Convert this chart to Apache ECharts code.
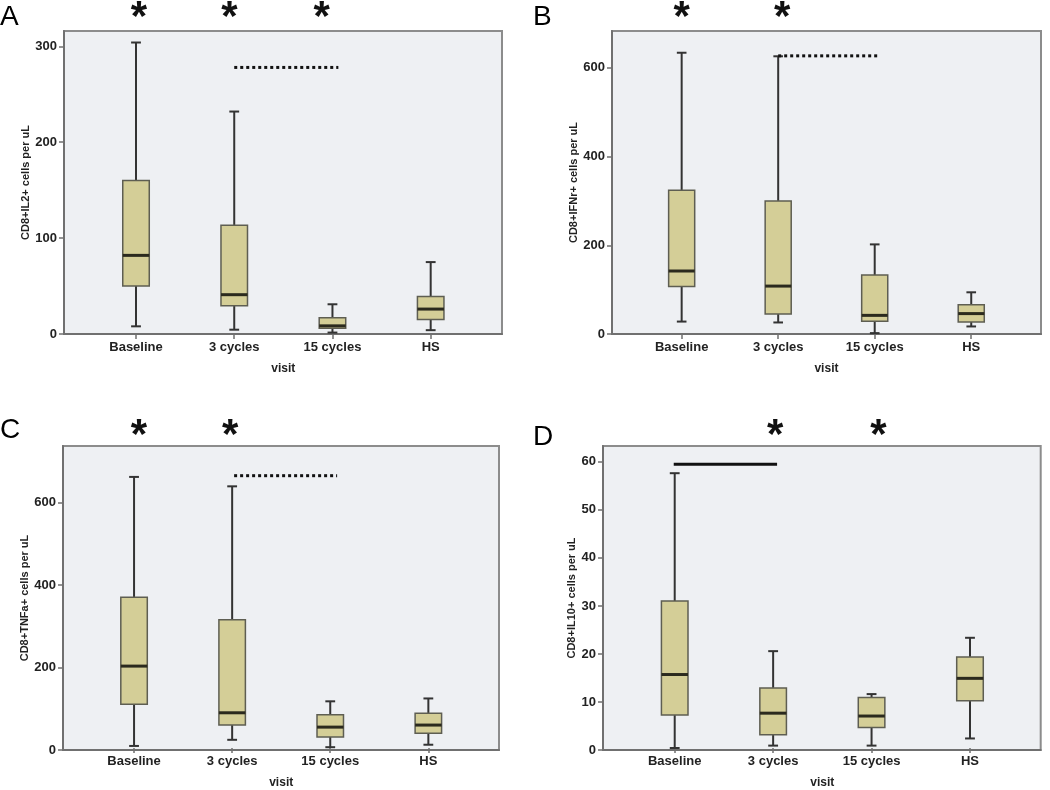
<!DOCTYPE html>
<html><head><meta charset="utf-8">
<script src="https://cdn.jsdelivr.net/npm/echarts@6/dist/echarts.min.js"></script>
<style>html,body{margin:0;padding:0;background:#fff}#chart{width:1050px;height:790px}</style>
</head><body><div id="chart"></div>
<script>
// ---------------- data ----------------
const categories = ['Baseline', '3 cycles', '15 cycles', 'HS'];
// box rows: [lower whisker, Q1, median, Q3, upper whisker]
const il2Box  = [[8, 50, 82, 160, 304], [4.5, 29.5, 41, 113.5, 232], [1.5, 6, 8.5, 17, 31], [4, 15, 26, 39, 75]];
const ifnBox  = [[28, 107, 142, 324, 634], [26, 45, 108, 300, 626], [2, 28.5, 42, 133, 202], [17, 27, 46, 66, 94]];
const tnfBox  = [[5, 107, 200, 368, 662], [20, 56, 86, 313, 639], [2, 27, 51, 81, 114], [8, 36, 56, 85, 121]];
const il10Box = [[0, 6.9, 15.4, 30.8, 57.6], [0.5, 2.8, 7.3, 12.6, 20.3], [0.5, 4.3, 6.7, 10.6, 11.3], [2, 9.9, 14.6, 19.1, 23.1]];

const il2Ticks  = [0, 100, 200, 300];
const ifnTicks  = [0, 200, 400, 600];
const tnfTicks  = [0, 200, 400, 600];
const il10Ticks = [0, 10, 20, 30, 40, 50, 60];

const axisMax = [316, 683, 737.5, 63.3];
const yNames = ['CD8+IL2+ cells per uL', 'CD8+IFNr+ cells per uL', 'CD8+TNFa+ cells per uL', 'CD8+IL10+ cells per uL'];
const panelLetters = ['A', 'B', 'C', 'D'];
const xName = 'visit';

// significance asterisks: [category position, value level]
const starsA = [[0.03, 339], [0.95, 339], [1.89, 339]];
const starsB = [[0.0, 732], [1.04, 732]];
const starsC = [[0.05, 784], [0.98, 784]];
const starsD = [[1.02, 67.3], [2.07, 67.3]];
// comparison bars: [from category, to category, value level, dotted(1)/solid(0)]
const barsA = [[1.0, 2.06, 278, 1]];
const barsB = [[1.0, 2.04, 627, 1]];
const barsC = [[1.02, 2.07, 665, 1]];
const barsD = [[-0.01, 1.04, 59.5, 0]];

// ---------------- layout ----------------
const frames = [
  {left: 64,  top: 31,  width: 438,   height: 303, innerLeft: 86.9,  innerWidth: 392.9, nameGap: 32, lx: 0,   ly: 3},
  {left: 612, top: 31,  width: 429,   height: 303, innerLeft: 633.4, innerWidth: 386.1, nameGap: 32, lx: 533, ly: 3},
  {left: 63,  top: 446, width: 436,   height: 304, innerLeft: 85,    innerWidth: 392.4, nameGap: 31, lx: 0,   ly: 416},
  {left: 603, top: 446, width: 437.7, height: 304, innerLeft: 625.5, innerWidth: 393.7, nameGap: 24, lx: 533, ly: 423}
];
const boxes = [il2Box, ifnBox, tnfBox, il10Box];
const ticks = [il2Ticks, ifnTicks, tnfTicks, il10Ticks];
const stars = [starsA, starsB, starsC, starsD];
const bars = [barsA, barsB, barsC, barsD];

const FONT = '"Liberation Sans", Arial, sans-serif';
const STAR = 42;

function renderBox(params, api) {
  const i = api.value(0);
  const v = [api.value(1), api.value(2), api.value(3), api.value(4), api.value(5)];
  const band = api.size([1, 0])[0];
  const cx = api.coord([i, 0])[0];
  const Y = val => api.coord([i, val])[1];
  const bw = band * 0.27, cw = band * 0.1;
  const wk = {stroke: '#333', lineWidth: 2};
  return {type: 'group', children: [
    {type: 'line', shape: {x1: cx, y1: Y(v[4]), x2: cx, y2: Y(v[3])}, style: wk},
    {type: 'line', shape: {x1: cx, y1: Y(v[1]), x2: cx, y2: Y(v[0])}, style: wk},
    {type: 'line', shape: {x1: cx - cw / 2, y1: Y(v[4]), x2: cx + cw / 2, y2: Y(v[4])}, style: wk},
    {type: 'line', shape: {x1: cx - cw / 2, y1: Y(v[0]), x2: cx + cw / 2, y2: Y(v[0])}, style: wk},
    {type: 'rect', shape: {x: cx - bw / 2, y: Y(v[3]), width: bw, height: Y(v[1]) - Y(v[3])},
      style: {fill: '#d4ce97', stroke: '#5e5e52', lineWidth: 1.5}},
    {type: 'line', shape: {x1: cx - bw / 2, y1: Y(v[2]), x2: cx + bw / 2, y2: Y(v[2])},
      style: {stroke: '#2b2a1e', lineWidth: 3}}
  ]};
}
function renderStar(params, api) {
  const band = api.size([1, 0])[0];
  const x = api.coord([0, 0])[0] + api.value(0) * band;
  const y = api.coord([0, api.value(1)])[1];
  return {type: 'text', style: {text: '*', x: x, y: y + STAR * 0.22,
    font: 'bold ' + STAR + 'px ' + FONT, fill: '#111', align: 'center', verticalAlign: 'middle'}};
}
function renderBar(params, api) {
  const band = api.size([1, 0])[0];
  const x0 = api.coord([0, 0])[0];
  const y = api.coord([0, api.value(2)])[1];
  const dotted = api.value(3) === 1;
  return {type: 'line', shape: {x1: x0 + api.value(0) * band, y1: y, x2: x0 + api.value(1) * band, y2: y},
    style: {stroke: '#111', lineWidth: 3, lineDash: dotted ? [3, 3] : null}};
}

const grid = [], xAxis = [], yAxis = [], series = [], graphic = [];
frames.forEach((f, p) => {
  grid.push({left: f.left, top: f.top, width: f.width, height: f.height, show: true,
    backgroundColor: '#eef0f3', borderColor: '#8c8c8c', borderWidth: 2});
  grid.push({left: f.innerLeft, top: f.top, width: f.innerWidth, height: f.height, show: false});
  xAxis.push({gridIndex: 2 * p, type: 'value', min: 0, max: 1,
    axisLine: {show: true, lineStyle: {color: '#707070', width: 2}},
    axisTick: {show: false}, axisLabel: {show: false}, splitLine: {show: false}});
  xAxis.push({gridIndex: 2 * p + 1, type: 'category', data: categories,
    axisLine: {show: false},
    axisTick: {show: true, alignWithLabel: true, length: 5, lineStyle: {color: '#707070', width: 1.5}},
    axisLabel: {margin: 7, fontFamily: FONT, fontWeight: 'bold', fontSize: 13, color: '#222'},
    name: xName, nameLocation: 'middle', nameGap: 29,
    nameTextStyle: {fontFamily: FONT, fontWeight: 'bold', fontSize: 12, color: '#222'}});
  yAxis.push({gridIndex: 2 * p, type: 'value', min: 0, max: axisMax[p],
    axisLine: {show: true, lineStyle: {color: '#707070', width: 2}},
    axisTick: {show: true, length: 5, customValues: ticks[p], lineStyle: {color: '#707070', width: 1.5}},
    axisLabel: {customValues: ticks[p], margin: 7, fontFamily: FONT, fontWeight: 'bold', fontSize: 13, color: '#222'},
    splitLine: {show: false},
    name: yNames[p], nameLocation: 'middle', nameGap: f.nameGap,
    nameTextStyle: {fontFamily: FONT, fontWeight: 'bold', fontSize: 11, color: '#222'}});
  yAxis.push({gridIndex: 2 * p + 1, type: 'value', min: 0, max: axisMax[p], show: false});
  series.push({type: 'custom', xAxisIndex: 2 * p + 1, yAxisIndex: 2 * p + 1, renderItem: renderBox,
    encode: {x: 0, y: [1, 2, 3, 4, 5]}, z: 3,
    data: boxes[p].map((b, i) => [i].concat(b))});
  series.push({type: 'custom', xAxisIndex: 2 * p + 1, yAxisIndex: 2 * p + 1, renderItem: renderBar,
    encode: {x: [0, 1], y: 2}, z: 4, data: bars[p]});
  series.push({type: 'custom', xAxisIndex: 2 * p + 1, yAxisIndex: 2 * p + 1, renderItem: renderStar,
    encode: {x: 0, y: 1}, z: 4, data: stars[p]});
  graphic.push({type: 'text', left: f.lx, top: f.ly,
    style: {text: panelLetters[p], font: '28px ' + FONT, fill: '#000'}});
});

const chart = echarts.init(document.getElementById('chart'), null, {renderer: 'canvas'});
chart.setOption({animation: false, backgroundColor: '#fff', grid, xAxis, yAxis, series, graphic});
</script></body></html>
